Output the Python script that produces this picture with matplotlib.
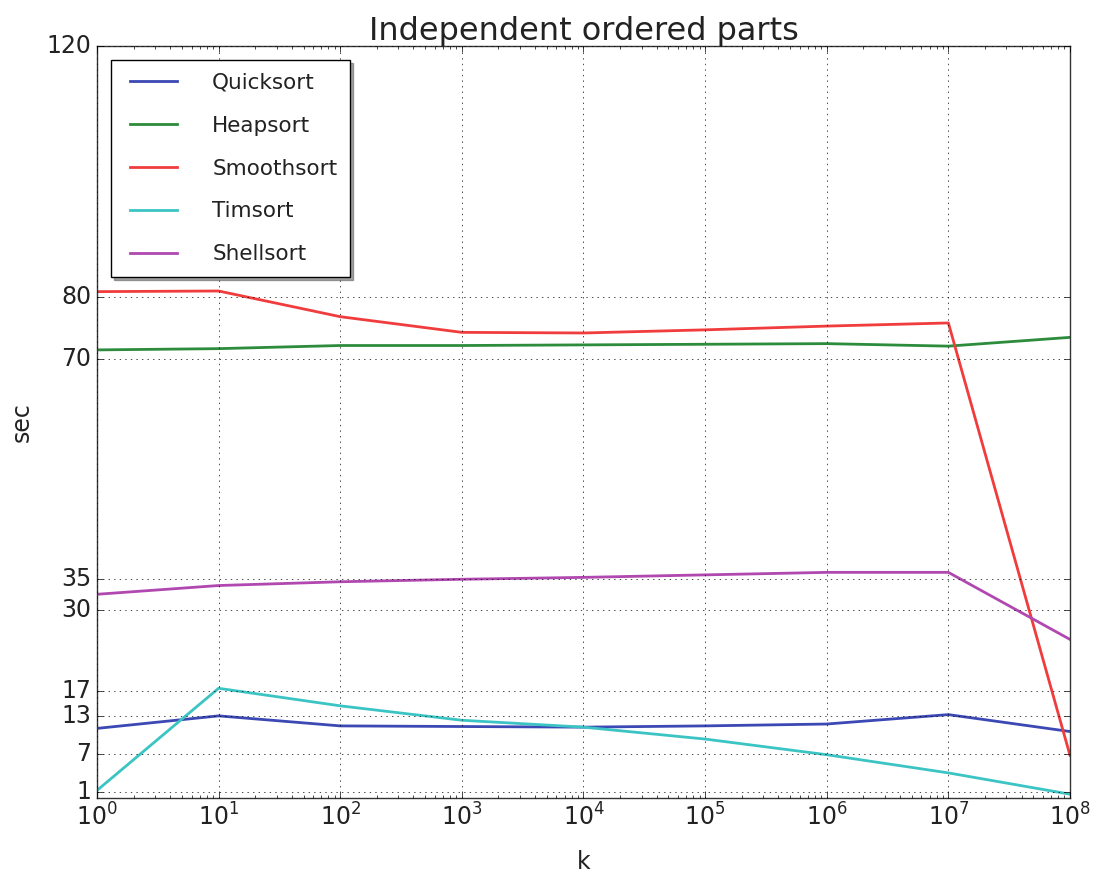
import matplotlib
matplotlib.use("Agg")
import matplotlib.pyplot as plt

plt.style.use("classic")

k = [1e0, 1e1, 1e2, 1e3, 1e4, 1e5, 1e6, 1e7, 1e8]

quicksort = [11.1, 13.1, 11.5, 11.4, 11.3, 11.5, 11.8, 13.3, 10.6]
heapsort = [71.5, 71.7, 72.2, 72.2, 72.3, 72.4, 72.5, 72.1, 73.5]
smoothsort = [80.8, 80.9, 76.8, 74.3, 74.2, 74.7, 75.3, 75.8, 6.8]
timsort = [1.2, 17.5, 14.7, 12.4, 11.3, 9.4, 6.9, 4.0, 0.6]
shellsort = [32.5, 33.9, 34.5, 34.9, 35.2, 35.6, 36.0, 36.0, 25.3]

series = [
    ("Quicksort", quicksort, "#3c48b4"),
    ("Heapsort", heapsort, "#2c8c3c"),
    ("Smoothsort", smoothsort, "#f03c3c"),
    ("Timsort", timsort, "#3cc4c4"),
    ("Shellsort", shellsort, "#b048b0"),
]

yticks = [1, 7, 13, 17, 30, 35, 70, 80, 120]
text_color = "#222222"

fig = plt.figure(figsize=(10.98, 8.74), dpi=100, facecolor="white")
ax = fig.add_axes([0.0883, 0.087, 0.8862, 0.8604])

for name, values, color in series:
    ax.plot(k, values, color=color, label=name, linewidth=2)

ax.set_xscale("log")
ax.set_xlim(1e0, 1e8)
ax.set_ylim(0, 120)
ax.set_yticks(yticks)
ax.grid(True)
ax.tick_params(labelsize=17, labelcolor=text_color)
for spine in ax.spines.values():
    spine.set_color("#333333")

ax.set_title("Independent ordered parts", fontsize=23, color=text_color, pad=4)
ax.set_xlabel("k", fontsize=17, color=text_color, labelpad=14)
ax.set_ylabel("sec", fontsize=17, color=text_color, labelpad=9)

leg = ax.legend(loc="upper left", shadow=True, fontsize=15.5, borderpad=0.6,
                labelspacing=1.06, handlelength=2.75, handletextpad=1.35,
                borderaxespad=0.65)
for t in leg.get_texts():
    t.set_color(text_color)

fig.savefig("out.png", dpi=100, facecolor="white")
